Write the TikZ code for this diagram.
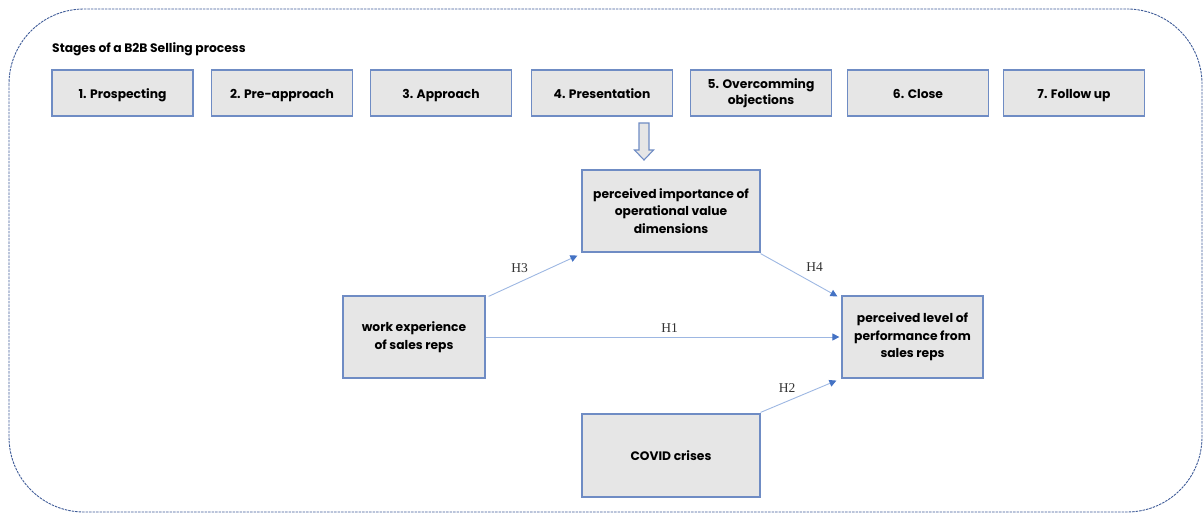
\documentclass[tikz,border=0pt]{standalone}
\usepackage{fontspec}
\setmainfont{Poppins}
\newfontfamily\hfont{Liberation Serif}
\usetikzlibrary{arrows.meta,calc}
\definecolor{boxfill}{HTML}{E6E6E6}
\definecolor{boxline}{HTML}{6F8CC4}
\definecolor{frameline}{HTML}{3F5C98}
\definecolor{linkline}{HTML}{9DB7E2}
\definecolor{tipcol}{HTML}{4472C4}
\tikzset{
  stagebox/.style={draw=boxline, line width=1.2pt, fill=boxfill, minimum width=141pt, minimum height=46pt,
    inner sep=2pt, align=center, font=\fontsize{12.3}{15.5}\selectfont\bfseries},
  varbox/.style={draw=boxline, line width=1.2pt, fill=boxfill, minimum height=82pt,
    inner sep=2pt, align=center, font=\fontsize{12.3}{17.5}\selectfont\bfseries},
  oneline/.style={text height=12pt, text depth=1.4pt},
  link/.style={draw=linkline, line width=0.9pt, -{Triangle[length=7pt,width=7pt,fill=tipcol,color=tipcol]}},
  hlabel/.style={font=\hfont\fontsize{13.5}{14}\selectfont, text=black!80},
}
\begin{document}
\begin{tikzpicture}[x=1pt,y=-1pt]
\useasboundingbox (0,0) rectangle (1203,513);
% outer dashed frame
\draw[frameline, line width=0.9pt, dash pattern=on 2.5pt off 1pt, rounded corners=75pt] (9,9) rectangle (1202,512);
% title
\node[anchor=west, font=\fontsize{12.3}{14}\selectfont\bfseries, inner sep=0pt] (title) at (52,49) {Stages of a B2B Selling process};
% stages
\node[stagebox, oneline] (s1) at (122.5,93) {1. Prospecting};
\node[stagebox, oneline] (s2) at (282,93) {2. Pre-approach};
\node[stagebox, oneline] (s3) at (441,93) {3. Approach};
\node[stagebox, oneline] (s4) at (602,93) {4. Presentation};
\node[stagebox] (s5) at (761,93) {5. Overcomming\\objections};
\node[stagebox, oneline] (s6) at (918,93) {6. Close};
\node[stagebox, oneline] (s7) at (1074,93) {7. Follow up};
% variable boxes
\node[varbox, minimum width=178pt] (imp) at (671,211) {perceived importance of\\operational value\\dimensions};
\node[varbox, minimum width=142pt] (work) at (414,337) {work experience\\of sales reps};
\node[varbox, minimum width=141pt] (perf) at (912.5,337) {perceived level of\\performance from\\sales reps};
\node[varbox, oneline, minimum width=178pt, minimum height=83pt] (covid) at (671,455.5) {COVID crises};
% block arrow
\coordinate (ba) at (644,123);
\draw[boxline, line width=1.1pt, fill=boxfill]
  ($(ba)+(-5,0)$) -- ($(ba)+(5,0)$) -- ($(ba)+(5,27)$) -- ($(ba)+(9.5,27)$) -- ($(ba)+(0,37)$)
  -- ($(ba)+(-9.5,27)$) -- ($(ba)+(-5,27)$) -- cycle;
% links
\draw[link] ($(work.north east)+(3,1)$) -- node[hlabel, pos=0.35, above=6pt] {H3} ($(imp.south west)+(-4,3)$);
\draw[link] ($(imp.south east)+(0,1)$) -- node[hlabel, pos=0.6, above=4pt, xshift=8pt] {H4} ($(perf.north west)+(-4,1)$);
\draw[link] (work.east) -- node[hlabel, pos=0.52, above=1pt] {H1} ($(perf.west)+(-2,0)$);
\draw[link] ($(covid.north east)+(0,-1)$) -- node[hlabel, pos=0.35, above=5pt] {H2} ($(perf.south west)+(-5,2)$);
\end{tikzpicture}
\end{document}
